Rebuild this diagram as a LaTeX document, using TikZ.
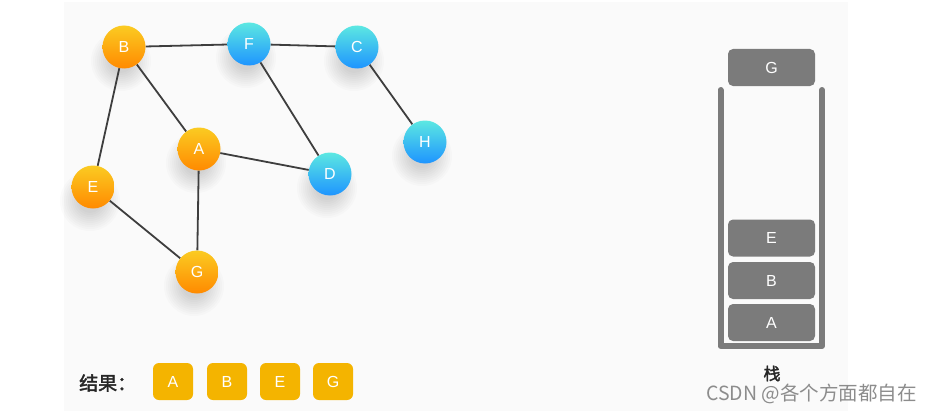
\documentclass[tikz,border=0pt]{standalone}
\usepackage{fontspec}
\setmainfont{Liberation Sans}
\newfontfamily\cjk{Noto Sans CJK SC}[AutoFakeBold=2]
\definecolor{panel}{HTML}{FAFAFA}
\definecolor{oTop}{HTML}{FBCB22}
\definecolor{oBot}{HTML}{FF8A00}
\definecolor{bTop}{HTML}{5CE8E2}
\definecolor{bBot}{HTML}{1E94FF}
\definecolor{edgecol}{HTML}{3E3E3E}
\definecolor{stackgray}{HTML}{7B7B7B}
\definecolor{resy}{HTML}{F4B400}
\definecolor{wm}{HTML}{8C8C8C}
\pgfdeclarelayer{bg}
\pgfdeclarelayer{shadows}
\pgfdeclarelayer{edges}
\pgfsetlayers{bg,shadows,edges,main}
\tikzset{
  vert/.style={circle, minimum size=43pt, inner sep=0pt, text=white, font=\fontsize{16}{16}\selectfont},
  orangev/.style={vert, top color=oTop, bottom color=oBot},
  bluev/.style={vert, top color=bTop, bottom color=bBot},
  shadring/.style={fill=black, fill opacity=0.015},
  link/.style={draw=edgecol, line width=1.8pt},
  sbox/.style={rectangle, rounded corners=5pt, fill=stackgray, minimum width=87pt, minimum height=37pt, inner sep=0pt, text=white, font=\fontsize{16}{16}\selectfont},
  rbox/.style={rectangle, rounded corners=6pt, fill=resy, minimum width=40pt, minimum height=37pt, inner sep=0pt, text=white, font=\fontsize{16}{16}\selectfont},
  wall/.style={draw=stackgray, line width=6pt, line cap=round, line join=round}
}
\begin{document}
\begin{tikzpicture}[x=1pt,y=-1pt]
\useasboundingbox (0,0) rectangle (933,412);
\begin{pgfonlayer}{bg}
\fill[panel] (64,2) rectangle (848,411);
\end{pgfonlayer}
% vertices
\node[orangev] (B) at (124,47) {B};
\node[bluev] (F) at (249,44) {F};
\node[bluev] (C) at (357,47) {C};
\node[bluev] (H) at (425,142) {H};
\node[orangev] (A) at (199,149) {A};
\node[bluev] (D) at (330,174) {D};
\node[orangev] (E) at (93,187) {E};
\node[orangev] (G) at (197,272) {G};
\begin{pgfonlayer}{shadows}
  \foreach \n in {B,F,C,H,A,D,E,G}
    \foreach \r in {12,14,...,31}
      \fill[shadring] ([shift={(-3,14)}]\n.center) circle (\r pt);
\end{pgfonlayer}
\begin{pgfonlayer}{edges}
  \draw[link] (B) -- (F);
  \draw[link] (F) -- (C);
  \draw[link] (C) -- (H);
  \draw[link] (B) -- (A);
  \draw[link] (B) -- (E);
  \draw[link] (F) -- (D);
  \draw[link] (A) -- (D);
  \draw[link] (A) -- (G);
  \draw[link] (E) -- (G);
\end{pgfonlayer}
% stack
\coordinate (wTL) at (720.5,90);
\coordinate (wBL) at (720.5,346);
\coordinate (wBR) at (822,346);
\coordinate (wTR) at (822,90);
\draw[wall] (wTL) -- (wBL) -- (wBR) -- (wTR);
\node[sbox] (sG) at (771.5,67.5) {G};
\node[sbox] (sE) at (771.5,238) {E};
\node[sbox] (sB) at (771.5,280.5) {B};
\node[sbox] (sA) at (771.5,322.5) {A};
\node[font=\cjk\bfseries\fontsize{17}{17}\selectfont, text=black!85, inner sep=0pt] (stk) at (772,373.5) {栈};
% result
\node[anchor=west, font=\cjk\bfseries\fontsize{19}{19}\selectfont, text=black!85, inner sep=0pt] (res) at (79,383) {结果：};
\node[rbox] (rA) at (173,381.5) {A};
\node[rbox] (rB) at (227,381.5) {B};
\node[rbox] (rE) at (280,381.5) {E};
\node[rbox] (rG) at (333,381.5) {G};
% watermark
\node[anchor=west, inner sep=0pt, text=wm, font=\cjk\fontsize{19.5}{19.5}\selectfont] (wmk) at (706,394) {CSDN @各个方面都自在};
\end{tikzpicture}
\end{document}
